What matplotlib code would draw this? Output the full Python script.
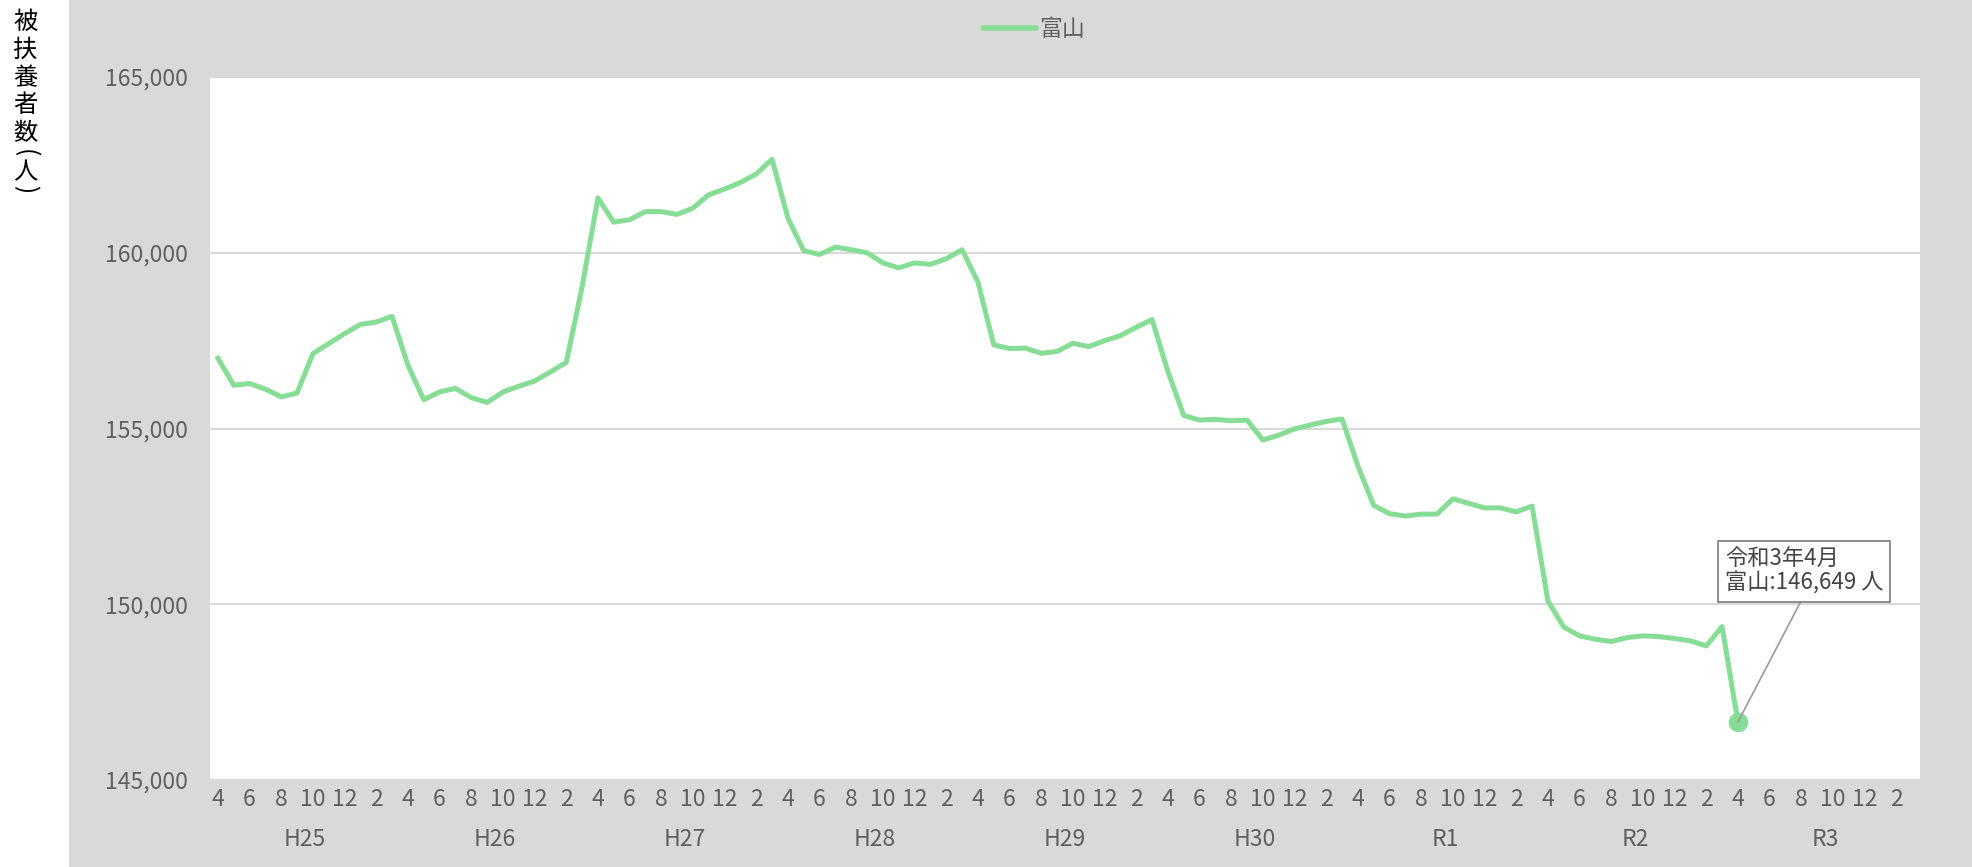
import matplotlib
matplotlib.use("Agg")
import matplotlib.pyplot as plt
import matplotlib.transforms as mtransforms
from matplotlib.patches import Rectangle
from matplotlib.lines import Line2D
import numpy as np

plt.rcParams['font.family'] = ['Noto Sans CJK JP', 'DejaVu Sans']

# ---- data ----
years = ['H25', 'H26', 'H27', 'H28', 'H29', 'H30', 'R1', 'R2', 'R3']
month_labels = ['4', '6', '8', '10', '12', '2']
series_name = '富山'
values = [
    157000, 156230, 156280, 156120, 155900, 156010, 157130, 157415, 157700, 157960, 158030, 158190,  # H25
    156800, 155820, 156040, 156140, 155880, 155740, 156040, 156200, 156350, 156610, 156880, 159025,  # H26
    161560, 160870, 160940, 161170, 161170, 161090, 161270, 161650, 161810, 162000, 162240, 162660,  # H27
    160985, 160060, 159950, 160160, 160085, 160000, 159710, 159570, 159710, 159670, 159830, 160085,  # H28
    159170, 157380, 157275, 157285, 157140, 157190, 157425, 157330, 157500, 157640, 157880, 158100,  # H29
    156620, 155370, 155240, 155260, 155220, 155240, 154670, 154810, 154990, 155100, 155200, 155270,  # H30
    153930, 152810, 152575, 152510, 152565, 152565, 153000, 152870, 152740, 152740, 152630, 152790,  # R1
    150095, 149350, 149100, 149005, 148940, 149050, 149100, 149080, 149025, 148960, 148815, 149365,  # R2
    146649,                                                                                          # R3
]
y_ticks = [145000, 150000, 155000, 160000, 165000]
annot_title = '令和3年4月'
ylabel_chars = ['被', '扶', '養', '者', '数', '(', '人', ')']
ylabel_rot = [0, 0, 0, 0, 0, -90, 0, -90]

GREEN = '#86dd95'
BG = '#d9d9d9'
TXT = '#5f5f5f'
FS = 16.5

W, H = 1972, 867
fig = plt.figure(figsize=(W / 100, H / 100), dpi=100, facecolor=BG)
fig.patches.append(Rectangle((0, 0), 69 / W, 1, transform=fig.transFigure,
                             facecolor='white', edgecolor='none', zorder=0))

ax = fig.add_axes([210 / W, (H - 780) / H, (1920 - 210) / W, (780 - 77) / H])
ax.set_facecolor('white')

n_months = 12 * len(years)
x = np.arange(len(values))
ax.plot(x, values, color=GREEN, lw=3.6, solid_joinstyle='round', zorder=3)
ax.plot([x[-1]], [values[-1]], 'o', color=GREEN, ms=13, zorder=4)

ax.set_xlim(-0.5, n_months - 0.5)
ax.set_ylim(y_ticks[0], y_ticks[-1])

# ticks
tick_pos = np.arange(0, n_months, 2)
ax.set_xticks(tick_pos)
ax.set_xticklabels(month_labels * len(years))
ax.set_xticks(np.arange(0, n_months, 12), minor=True)
ax.set_yticks(y_ticks)
ax.set_yticklabels([f'{v:,}' for v in y_ticks])
ax.tick_params(axis='both', which='both', length=0, labelsize=FS, colors=TXT)
ax.tick_params(axis='x', pad=6)
ax.tick_params(axis='y', pad=16)

ax.grid(axis='y', which='major', color='#d9d9d9', lw=1.5)
ax.grid(axis='x', which='minor', color='#d9d9d9', lw=1.5)
ax.grid(axis='x', which='major', visible=False)
ax.set_axisbelow(True)
for s in ax.spines.values():
    s.set_visible(False)

# year labels
trans = mtransforms.blended_transform_factory(ax.transData, ax.transAxes)
for i, yl in enumerate(years):
    ax.text(i * 12 + 5.5, -0.084, yl, transform=trans, ha='center', va='center',
            fontsize=FS, color=TXT)

# legend
h = Line2D([], [], color=GREEN, lw=4, solid_capstyle='round')
fig.legend([h], [series_name], loc='center', bbox_to_anchor=(1034 / W, 1 - 30 / H),
           frameon=False, fontsize=FS, labelcolor=TXT, handlelength=2.3,
           handletextpad=0.15)

# y label (vertical stacked)
ys = [22, 50, 78, 105, 133, 153, 172, 189]
for ch, yy, rot in zip(ylabel_chars, ys, ylabel_rot):
    fig.text(25 / W, 1 - yy / H, ch, ha='center', va='center', fontsize=17.5,
             color='black', rotation=rot, rotation_mode='anchor')

# annotation
ax.annotate(f'{annot_title}\n{series_name}:{values[-1]:,} 人',
            xy=(x[-1], values[-1]), xytext=(-13, 127), textcoords='offset pixels',
            ha='left', va='bottom', fontsize=16, color='#444444', linespacing=1.1,
            bbox=dict(boxstyle='square,pad=0.3', fc='white', ec='#7a7a7a', lw=1.2),
            arrowprops=dict(arrowstyle='-', color='#9a9a9a', lw=1.2, relpos=(0.5, 0),
                            shrinkA=0, shrinkB=0), zorder=5)

fig.savefig('out.png', dpi=100, facecolor=BG)
